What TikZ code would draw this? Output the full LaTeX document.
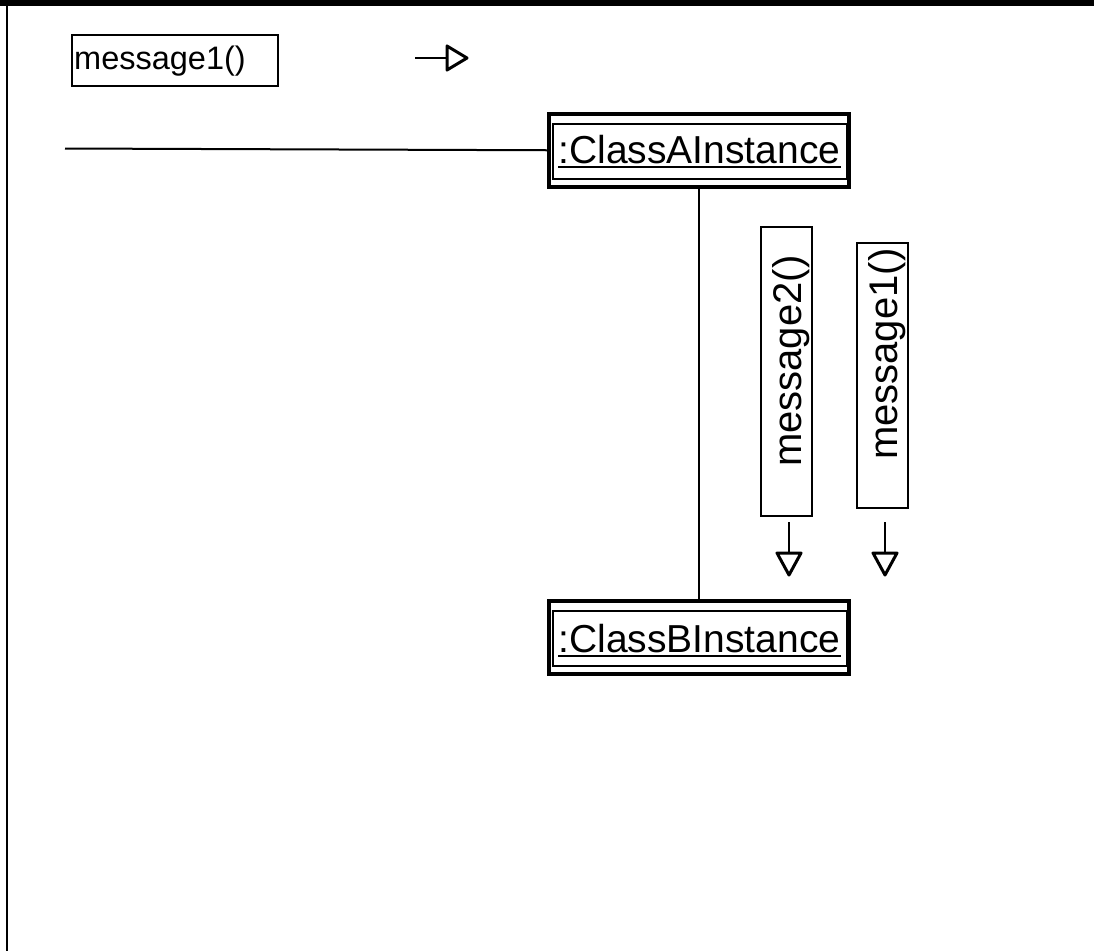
\documentclass[tikz,border=0pt]{standalone}
\usepackage{fontspec}
\setmainfont{Liberation Sans}
\begin{document}
\begin{tikzpicture}[x=1pt,y=-1pt,
  objbox/.style={draw,line width=3.5pt,minimum width=300pt,minimum height=73pt,inner sep=0pt,anchor=north west},
  msgbox/.style={draw,line width=1.5pt,inner sep=0pt,anchor=north west},
  objtext/.style={font=\fontsize{39}{39}\selectfont,inner sep=0pt,anchor=base},
  msgtext/.style={font=\fontsize{32.5}{32.5}\selectfont,inner sep=0pt},
  vmsgtext/.style={font=\fontsize{40}{40}\selectfont,inner sep=0pt,rotate=90,anchor=base west},
  wire/.style={line width=2pt},
  tri/.style={line width=3pt,line join=round}]
\useasboundingbox (0,0) rectangle (1094,951);
\fill[black] (0,0) rectangle (1094,6);
\draw[line width=2.5pt] (7,6) -- (7,951);

% top message label
\node[msgbox,minimum width=206pt,minimum height=51pt] (m1box) at (71,34) {};
\node[msgtext,anchor=base west] (m1txt) at (74,69) {message1()};
\coordinate (ra1) at (415,58);
\coordinate (ra2) at (447,58);
\draw[wire] (ra1) -- (ra2);
\draw[tri] (ra2) ++(0,-12) -- ++(20,12) -- ++(-20,12) -- cycle;

% objects
\node[objbox] (A) at (547,112) {};
\draw[line width=2pt] ([shift={(6,12)}]A.north west) rectangle ([shift={(-4,-10)}]A.south east);
\node[objtext] (Atxt) at (699.5,163) {:ClassAInstance};
\draw[line width=2pt] ([yshift=-3.5pt]Atxt.base west) -- ([yshift=-3.5pt]Atxt.base east);

\node[objbox] (B) at (547,599) {};
\draw[line width=2pt] ([shift={(6,12)}]B.north west) rectangle ([shift={(-4,-10)}]B.south east);
\node[objtext] (Btxt) at (699.5,652) {:ClassBInstance};
\draw[line width=2pt] ([yshift=-3.5pt]Btxt.base west) -- ([yshift=-3.5pt]Btxt.base east);

\coordinate (left) at (65,148.5);
\draw[wire] (left) -- (A.west);
\draw[wire] (A.south) -- (B.north);

% vertical message labels
\node[msgbox,minimum width=51pt,minimum height=289pt] (m2vbox) at (760,226) {};
\node[vmsgtext] (m2vtxt) at (801,467) {message2()};
\node[msgbox,minimum width=51pt,minimum height=265pt] (m1vbox) at (856,242) {};
\node[vmsgtext] (m1vtxt) at (897,460) {message1()};

\coordinate (d1a) at (789,522);
\coordinate (d1b) at (789,553);
\draw[wire] (d1a) -- (d1b);
\draw[tri] (d1b) ++(-12,0) -- ++(24,0) -- ++(-12,22) -- cycle;
\coordinate (d2a) at (885,522);
\coordinate (d2b) at (885,553);
\draw[wire] (d2a) -- (d2b);
\draw[tri] (d2b) ++(-12,0) -- ++(24,0) -- ++(-12,22) -- cycle;
\end{tikzpicture}
\end{document}
